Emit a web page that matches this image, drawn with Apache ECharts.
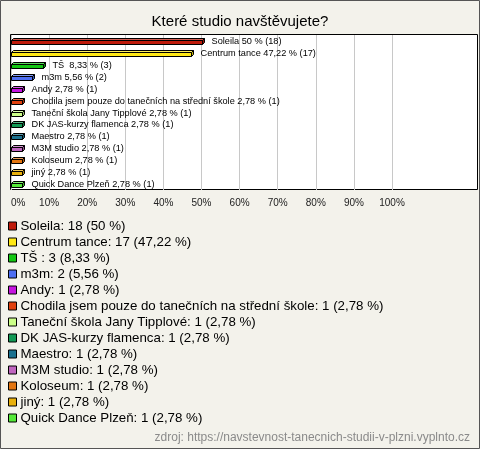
<!DOCTYPE html>
<html>
<head>
<meta charset="utf-8">
<script src="https://cdn.jsdelivr.net/npm/echarts@6/dist/echarts.min.js"></script>
<style>
  html, body { margin: 0; padding: 0; background: #f3f2eb; }
  #chart { width: 480px; height: 449px; }
</style>
</head>
<body>
<div id="chart"></div>
<script>
// kategorie (odpovědi) a počty hlasů
var studios = ['Soleila', 'Centrum tance', 'TŠ ', 'm3m', 'Andy',
  'Chodila jsem pouze do tanečních na střední škole', 'Taneční škola Jany Tipplové',
  'DK JAS-kurzy flamenca', 'Maestro', 'M3M studio', 'Koloseum', 'jiný', 'Quick Dance Plzeň'];
var counts = [18, 17, 3, 2, 1, 1, 1, 1, 1, 1, 1, 1, 1];
var percents = [50, 47.22, 8.33, 5.56, 2.78, 2.78, 2.78, 2.78, 2.78, 2.78, 2.78, 2.78, 2.78];
var colors = ['#bf1b0b', '#ffe815', '#13c613', '#4d6ef2', '#c514e0', '#e0400e', '#ccff88',
  '#129955', '#1b7290', '#c066c0', '#e37612', '#e8b00c', '#55e838'];
var tickValues = [0, 10, 20, 30, 40, 50, 60, 70, 80, 90, 100];

var FONT = '"Liberation Sans", Arial, sans-serif';

function fmt(v) { return String(v).replace('.', ','); }

// svetlejsi / tmavsi odstin pro "3D" sloupce
function mix(hex, to, k) {
  var n = parseInt(hex.slice(1), 16);
  var r = (n >> 16) & 255, g = (n >> 8) & 255, b = n & 255;
  r = Math.round(r + (to - r) * k); g = Math.round(g + (to - g) * k); b = Math.round(b + (to - b) * k);
  return 'rgb(' + r + ',' + g + ',' + b + ')';
}

function renderBar(params, api) {
  var i = api.value(1);
  var start = api.coord([0, i]);
  var end = api.coord([api.value(0), i]);
  var c = colors[i];
  var d = 2;
  var x0 = Math.round(start[0]) + 0.5;
  var x1 = Math.round(end[0]) + 0.5;
  var yt = Math.round(end[1]) - 0.5;
  var yb = yt + 4;
  var st = { stroke: '#000', lineWidth: 1 };
  return {
    type: 'group',
    children: [
      { type: 'polygon', shape: { points: [[x0, yt], [x0 + d, yt - d], [x1 + d, yt - d], [x1, yt]] },
        style: Object.assign({ fill: mix(c, 255, 0.3) }, st) },
      { type: 'polygon', shape: { points: [[x1, yt], [x1 + d, yt - d], [x1 + d, yb - d], [x1, yb]] },
        style: Object.assign({ fill: mix(c, 0, 0.25) }, st) },
      { type: 'rect', shape: { x: x0, y: yt, width: x1 - x0, height: yb - yt },
        style: Object.assign({ fill: c }, st) },
      { type: 'text', style: {
          text: studios[i] + ' ' + fmt(percents[i]) + ' % (' + counts[i] + ')',
          x: x1 + d + 7, y: yt + 1, verticalAlign: 'middle',
          font: '9.2px ' + FONT, fill: '#000' } }
    ]
  };
}

var series = studios.map(function (name, i) {
  return {
    name: name,
    type: 'custom',
    renderItem: renderBar,
    itemStyle: { color: colors[i] },
    data: [[percents[i], i]],
    silent: true
  };
});

var chart = echarts.init(document.getElementById('chart'));
chart.setOption({
  backgroundColor: '#f3f2eb',
  animation: false,
  textStyle: { fontFamily: FONT },
  title: [{
    text: 'Které studio navštěvujete?',
    left: 'center', top: 9,
    textStyle: { fontSize: 15, fontWeight: 'normal', color: '#000', fontFamily: FONT }
  }, {
    text: 'zdroj: https://navstevnost-tanecnich-studii-v-plzni.vyplnto.cz',
    right: 5, top: 427,
    textStyle: { fontSize: 12, fontWeight: 'normal', color: '#8a8a8a', fontFamily: FONT }
  }],
  graphic: [
    { type: 'rect', z: -10, shape: { x: 0.5, y: 0.5, width: 479, height: 448 },
      style: { fill: '#f3f2eb', stroke: '#555', lineWidth: 1 } },
    { type: 'rect', z: -5, shape: { x: 10.5, y: 34.5, width: 467, height: 155 },
      style: { fill: '#fff', stroke: '#000', lineWidth: 1 } }
  ],
  grid: { left: 11, top: 35, width: 381, height: 155 },
  xAxis: {
    type: 'value', min: 0, max: 100, interval: 10,
    axisLine: { show: false }, axisTick: { show: false },
    splitLine: { lineStyle: { color: '#c8c8c8', width: 1 } },
    axisLabel: {
      customValues: tickValues,
      formatter: '{value}%', fontSize: 10, color: '#222', margin: 8,
      alignMinLabel: 'left', fontFamily: FONT
    }
  },
  yAxis: {
    type: 'category', data: studios, inverse: true,
    axisLine: { show: false }, axisTick: { show: false },
    axisLabel: { show: false }, splitLine: { show: false }
  },
  legend: {
    orient: 'vertical', left: 8, top: 218, padding: 0, itemGap: 0,
    icon: 'rect', itemWidth: 8, itemHeight: 8,
    itemStyle: { borderColor: '#000', borderWidth: 1 },
    selectedMode: false,
    data: studios,
    textStyle: { fontSize: 13.3, color: '#000', lineHeight: 16, padding: [0, 0, 0, -1], fontFamily: FONT },
    formatter: function (name) {
      var i = studios.indexOf(name);
      return name + ': ' + counts[i] + ' (' + fmt(percents[i]) + ' %)';
    }
  },
  series: series
});
</script>
</body>
</html>
